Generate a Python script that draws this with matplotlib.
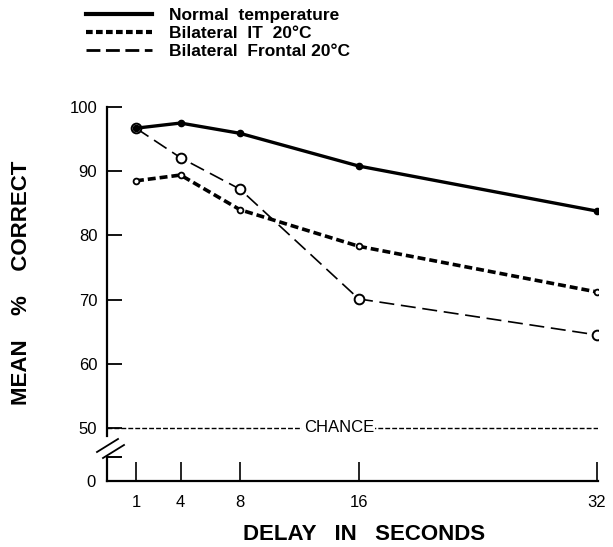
import matplotlib
matplotlib.use("Agg")
import matplotlib.pyplot as plt
from matplotlib.lines import Line2D

plt.rcParams['font.family'] = ['Liberation Sans', 'DejaVu Sans']

# data
delays = [1, 4, 8, 16, 32]
normal = [96.7, 97.5, 95.9, 90.8, 83.8]
bilat_it = [88.5, 89.4, 84.0, 78.3, 71.2]
bilat_frontal = [96.7, 92.1, 87.2, 70.1, 64.5]
chance = 50
y_ticks = [50, 60, 70, 80, 90, 100]
labels = ['Normal  temperature', 'Bilateral  IT  20°C', 'Bilateral  Frontal 20°C']

W, H = 613, 547
fig = plt.figure(figsize=(W / 100, H / 100), dpi=100)

def px(x0, y0, x1, y1):
    # figure rect from pixel box
    return [x0 / W, 1 - y1 / H, (x1 - x0) / W, (y1 - y0) / H]

ax = fig.add_axes(px(107, 107, 598, 436))
axb = fig.add_axes(px(107, 457, 598, 481))

xlim = (-0.95, 32.1)

# main curves
ax.plot(delays, normal, color='black', lw=2.4, solid_capstyle='round',
        marker='o', ms=4.5, mfc='black', mec='black', zorder=4)
ax.plot(delays, bilat_it, color='black', lw=2.6, dashes=(2.2, 1.1),
        marker='o', ms=4.2, mfc='white', mec='black', mew=1.3, zorder=3)
ax.plot(delays, bilat_frontal, color='black', lw=1.2, dashes=(9, 4),
        marker='o', ms=7, mfc='white', mec='black', mew=1.4, zorder=3)

# chance line
ax.axhline(chance, color='black', lw=1.0, dashes=(3.5, 1.5), zorder=2)
ax.text(14.65, chance, 'CHANCE', ha='center', va='center', fontsize=12,
        bbox=dict(facecolor='white', edgecolor='none', pad=1.0), zorder=3)

ax.set_xlim(*xlim)
ax.set_ylim(48.75, 100)
ax.set_yticks(y_ticks)
ax.set_yticklabels([str(v) for v in y_ticks], fontsize=12)
ax.tick_params(axis='y', direction='in', length=11, width=1.3, pad=7)
ax.set_xticks([])
for s in ['top', 'right', 'bottom']:
    ax.spines[s].set_visible(False)
ax.spines['left'].set_linewidth(1.6)

# lower part with the zero and the delay axis
axb.set_xlim(*xlim)
axb.set_ylim(0, 3)
axb.set_yticks([0])
axb.set_yticklabels(['0'], fontsize=12)
axb.tick_params(axis='y', direction='in', length=0, pad=8)
axb.set_xticks(delays)
axb.set_xticklabels([str(d) for d in delays], fontsize=12)
axb.tick_params(axis='x', direction='in', length=14, width=1.2, pad=10)
for s in ['top', 'right']:
    axb.spines[s].set_visible(False)
axb.spines['left'].set_linewidth(1.6)
axb.spines['bottom'].set_linewidth(1.6)
axb.plot([-0.95, 0.0], [3, 3], color='black', lw=1.4, clip_on=False)

# axis break marks
for dx, dy in [(0, 0), (6, 6)]:
    fig.add_artist(Line2D([(97 + dx) / W, (118 + dx) / W],
                          [1 - (452 + dy) / H, 1 - (439 + dy) / H],
                          color='black', lw=1.3))

fig.text(364 / W, 1 - 535 / H, 'DELAY   IN   SECONDS', ha='center', va='center',
         fontsize=16, fontweight='bold')
fig.text(22 / W, 1 - 283 / H, 'MEAN    %    CORRECT', ha='center', va='center',
         rotation=90, fontsize=16, fontweight='bold')

handles = [
    Line2D([], [], color='black', lw=3.0),
    Line2D([], [], color='black', lw=3.0, dashes=(1.6, 0.8)),
    Line2D([], [], color='black', lw=2.0, dashes=(5, 2)),
]
fig.legend(handles, labels, loc='upper left', bbox_to_anchor=(86 / W, 1 - 8 / H),
           frameon=False, prop={'weight': 'bold', 'size': 12.5},
           handlelength=3.8, handletextpad=1.0, labelspacing=0.16, borderpad=0,
           borderaxespad=0)

fig.savefig('out.png', dpi=100)
